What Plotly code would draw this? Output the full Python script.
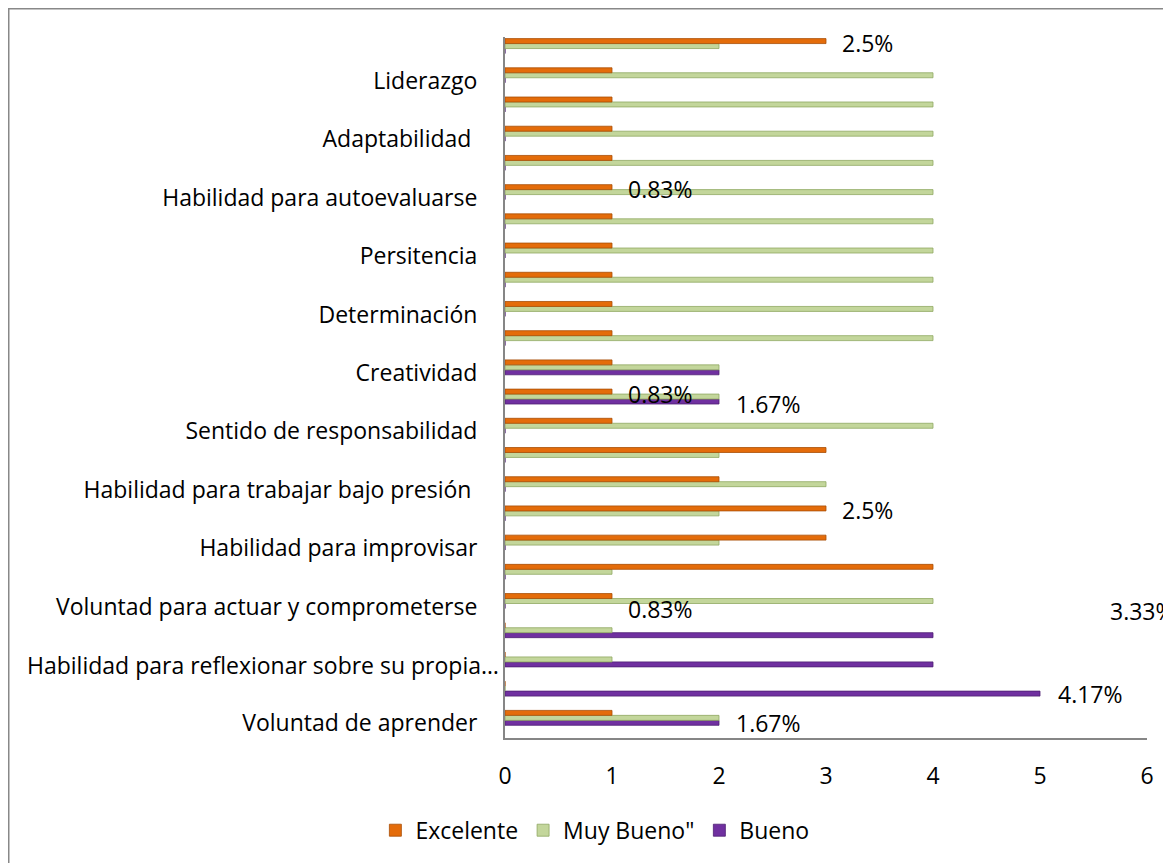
import plotly.graph_objects as go

# Categories from bottom (index 1) to top (index 24); only every other one is labeled
categories = [
    "Voluntad de aprender", None,
    "Habilidad para reflexionar sobre su propia…", None,
    "Voluntad para actuar y comprometerse", None,
    "Habilidad para improvisar", None,
    "Habilidad para trabajar bajo presión ", None,
    "Sentido de responsabilidad", None,
    "Creatividad", None,
    "Determinación", None,
    "Persitencia", None,
    "Habilidad para autoevaluarse", None,
    "Adaptabilidad ", None,
    "Liderazgo", None,
]

excelente = [1, 0, 0, 0, 1, 4, 3, 3, 2, 3, 1, 1, 1, 1, 1, 1, 1, 1, 1, 1, 1, 1, 1, 3]
muy_bueno = [2, 0, 1, 1, 4, 1, 2, 2, 3, 2, 4, 2, 2, 4, 4, 4, 4, 4, 4, 4, 4, 4, 4, 2]
bueno     = [2, 5, 4, 4, 0, 0, 0, 0, 0, 0, 0, 2, 2, 0, 0, 0, 0, 0, 0, 0, 0, 0, 0, 0]

series_names = ["Excelente", "Muy Bueno\"", "Bueno"]
x_ticks = [0, 1, 2, 3, 4, 5, 6]

# Stray percentage data labels (text, x value, category position)
pct_text = ["2.5%", "0.83%", "0.83%", "1.67%", "2.5%", "3.33%", "0.83%", "4.17%", "1.67%"]
pct_x    = [3.39, 1.45, 1.45, 2.46, 3.39, 5.96, 1.45, 5.47, 2.46]
pct_y    = [24.28, 19.3, 12.29, 11.95, 8.29, 4.84, 4.91, 2.0, 1.0]

positions = list(range(1, len(categories) + 1))

FONT = "Open Sans"
FS = 23
W = 0.17

fig = go.Figure()
fig.add_trace(go.Bar(
    y=positions, x=bueno, orientation="h", name=series_names[2],
    width=W, offset=-0.065,
    marker=dict(color="#7030A0", line=dict(color="#4E1F72", width=0.8)),
))
fig.add_trace(go.Bar(
    y=positions, x=muy_bueno, orientation="h", name=series_names[1],
    width=W, offset=0.105,
    marker=dict(color="#C3D69B", line=dict(color="#8FA862", width=0.8)),
))
fig.add_trace(go.Bar(
    y=positions, x=excelente, orientation="h", name=series_names[0],
    width=W, offset=0.275,
    marker=dict(color="#E46C0A", line=dict(color="#A84E06", width=0.8)),
))

for t, xv, yv in zip(pct_text, pct_x, pct_y):
    fig.add_annotation(x=xv, y=yv, xref="x", yref="y", text=t, showarrow=False,
                       font=dict(family=FONT, size=FS, color="#000000"))

L, T, PW, PH, FW, FH = 497, 29, 642, 702, 1163, 855

# Category tick labels; the truncated (ellipsis) label sits closer to the axis
tick_pos, tick_txt = [], []
for p, c in zip(positions, categories):
    if not c:
        continue
    if c.endswith("…"):
        fig.add_annotation(x=-4 / PW, xref="paper", y=p, yref="y", text=c,
                           xanchor="right", yanchor="middle", showarrow=False,
                           font=dict(family=FONT, size=FS, color="#000000"))
        tick_pos.append(p)
        tick_txt.append(" ")
    else:
        tick_pos.append(p)
        tick_txt.append(c)

fig.update_layout(
    width=FW, height=FH,
    margin=dict(l=L, r=FW - L - PW, t=T, b=FH - T - PH),
    paper_bgcolor="white", plot_bgcolor="white",
    barmode="overlay",
    font=dict(family=FONT, size=FS, color="#000000"),
    showlegend=True,
    legend=dict(orientation="h", x=0.14, xanchor="center", y=-0.13, yanchor="middle",
                traceorder="reversed", font=dict(family=FONT, size=FS)),
    xaxis=dict(range=[0, 6], tickvals=x_ticks, ticktext=[str(v) for v in x_ticks],
               showgrid=False, zeroline=False, showline=True, linecolor="#868686",
               linewidth=2, ticks="outside", ticklen=16, tickcolor="rgba(0,0,0,0)",
               fixedrange=True, automargin=False),
    yaxis=dict(range=[0.5, 24.5], tickvals=tick_pos, ticktext=tick_txt,
               showgrid=False, zeroline=False, showline=True, linecolor="#868686",
               linewidth=2, ticks="outside", ticklen=21, tickcolor="rgba(0,0,0,0)",
               fixedrange=True, automargin=False),
    shapes=[dict(type="rect", xref="paper", yref="paper",
                 x0=(0.5 - L) / PW, x1=1.3, y0=-0.4, y1=(T + PH - 0.5) / PH,
                 line=dict(color="#888888", width=2), fillcolor="rgba(0,0,0,0)",
                 layer="below")],
)

fig.write_html("out.html")
